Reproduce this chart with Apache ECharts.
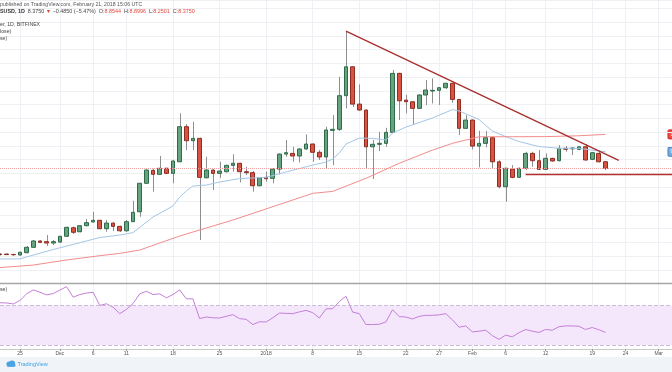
<!DOCTYPE html>
<html><head><meta charset="utf-8">
<script src="https://cdn.jsdelivr.net/npm/echarts@6/dist/echarts.min.js"></script>
<style>html,body{margin:0;padding:0;background:#fff;overflow:hidden}#c{width:672px;height:372px}</style>
</head><body><div id="c"></div><script>
// ---- data ----
const categories = [
'2017-11-22','2017-11-23','2017-11-24','2017-11-25','2017-11-26','2017-11-27','2017-11-28','2017-11-29','2017-11-30',
'2017-12-01','2017-12-02','2017-12-03','2017-12-04','2017-12-05','2017-12-06','2017-12-07','2017-12-08','2017-12-09','2017-12-10',
'2017-12-11','2017-12-12','2017-12-13','2017-12-14','2017-12-15','2017-12-16','2017-12-17','2017-12-18','2017-12-19','2017-12-20',
'2017-12-21','2017-12-22','2017-12-23','2017-12-24','2017-12-25','2017-12-26','2017-12-27','2017-12-28','2017-12-29','2017-12-30','2017-12-31',
'2018-01-01','2018-01-02','2018-01-03','2018-01-04','2018-01-05','2018-01-06','2018-01-07','2018-01-08','2018-01-09','2018-01-10',
'2018-01-11','2018-01-12','2018-01-13','2018-01-14','2018-01-15','2018-01-16','2018-01-17','2018-01-18','2018-01-19','2018-01-20',
'2018-01-21','2018-01-22','2018-01-23','2018-01-24','2018-01-25','2018-01-26','2018-01-27','2018-01-28','2018-01-29','2018-01-30','2018-01-31',
'2018-02-01','2018-02-02','2018-02-03','2018-02-04','2018-02-05','2018-02-06','2018-02-07','2018-02-08','2018-02-09','2018-02-10',
'2018-02-11','2018-02-12','2018-02-13','2018-02-14','2018-02-15','2018-02-16','2018-02-17','2018-02-18','2018-02-19','2018-02-20',
'2018-02-21','2018-02-22','2018-02-23','2018-02-24','2018-02-25','2018-02-26','2018-02-27','2018-02-28',
'2018-03-01','2018-03-02','2018-03-03'];

const opens = [2.15,2.15,2.12,2.08,2.25,2.64,3.10,3.05,2.95,3.02,
3.44,4.06,3.77,4.21,4.48,4.60,3.99,4.40,4.16,3.84,
4.50,5.22,7.29,8.23,7.94,8.38,8.01,8.85,11.40,10.38,
10.55,7.69,8.25,8.01,8.13,8.59,8.74,8.13,8.06,7.11,
7.72,7.65,8.32,9.41,9.46,9.27,9.78,10.14,9.54,9.20,
11.13,11.21,13.65,15.75,13.04,12.61,9.94,10.12,10.19,10.99,
15.27,13.33,13.21,12.73,13.70,13.99,14.04,14.23,14.55,13.38,
11.28,11.88,9.99,10.19,10.60,8.85,7.04,8.32,7.72,8.38,
9.46,8.93,8.30,9.10,8.93,9.83,9.79,9.75,9.94,9.03,
9.46,8.8544];
const closes = [2.12,2.11,2.10,2.28,2.64,3.10,3.00,2.95,3.05,3.44,
4.09,3.73,4.21,4.43,4.60,3.99,4.40,4.16,3.84,4.50,
5.18,7.29,8.25,7.94,8.38,8.01,8.91,11.40,10.38,10.55,
7.72,8.25,8.01,8.18,8.59,8.74,8.13,8.06,7.11,7.69,
7.62,8.32,9.41,9.51,9.27,9.78,10.14,9.54,9.20,11.16,
11.21,13.65,15.75,13.04,12.61,9.94,10.12,10.19,10.99,15.27,
13.28,13.21,12.73,13.70,14.06,14.04,14.23,14.55,13.38,11.28,
11.88,9.99,10.19,10.60,8.85,7.04,8.38,7.72,8.38,9.46,
8.93,8.30,9.10,8.91,9.83,9.76,9.85,9.94,8.98,9.51,
8.85,8.375];
const lows = [2.04,2.08,2.03,2.03,2.20,2.61,2.95,2.73,2.81,2.97,
3.39,3.61,3.73,4.16,4.43,3.95,3.77,3.82,3.75,3.77,
4.48,4.86,7.24,6.68,7.89,7.96,7.29,8.83,9.70,9.70,
3.17,7.65,6.80,7.67,8.08,8.13,7.36,7.89,6.68,7.07,
7.40,7.29,7.94,9.22,8.85,8.81,9.73,8.85,8.98,8.38,
8.61,11.08,12.73,12.83,12.54,8.38,7.60,9.63,9.94,10.94,
11.88,12.37,11.52,12.68,12.97,13.09,12.97,14.13,13.14,10.79,
11.23,9.75,8.45,9.90,8.38,6.92,5.95,7.65,7.67,8.25,
8.49,8.25,8.25,8.85,8.88,9.58,9.34,9.70,8.93,8.98,
8.81,8.2501];
const highs = [2.19,2.19,2.17,2.32,2.73,3.17,3.15,3.53,3.17,3.46,
4.14,4.14,4.24,4.69,5.22,4.64,4.62,4.45,4.21,4.62,
6.02,7.31,8.30,8.35,9.27,8.42,8.96,12.37,11.59,11.76,
10.60,9.22,8.30,8.85,8.64,9.39,8.78,8.49,8.18,7.74,
8.13,8.38,9.46,10.43,9.94,9.83,10.84,10.19,9.70,11.40,
12.24,15.03,18.34,15.80,14.47,12.66,10.43,11.03,11.32,15.51,
15.32,13.70,13.26,13.75,14.79,14.91,14.28,14.59,14.59,13.41,
12.24,11.93,11.10,11.08,10.65,8.96,8.42,8.61,8.42,9.58,
9.58,9.70,9.46,9.14,10.07,9.99,9.92,9.99,10.14,9.56,
9.65,8.8996];

// moving averages, read at sampled days: [dayIndex, value]
const maBlue = [[0,1.79],[3,1.80],[4,1.94],[8,2.48],[13,3.10],[15,3.35],[18,3.53],[20,3.71],[23,4.84],[26,5.64],[27,6.29],[28,6.73],[29,7.09],[31,7.16],[33,7.38],[36,7.63],[40,7.72],[43,8.11],[47,8.61],[49,8.83],[50,9.05],[51,9.49],[52,10.14],[54,10.57],[56,10.55],[58,10.43],[59,10.94],[61,11.37],[65,12.03],[68,12.64],[69,12.54],[72,11.92],[74,11.08],[76,10.68],[78,10.32],[81,9.96],[84,9.83],[87,9.83],[89,9.70],[91,9.58]];
const maRed = [[0,1.17],[5,1.35],[10,1.72],[15,2.03],[18,2.20],[21,2.44],[27,3.46],[35,4.62],[47,6.56],[50,6.70],[55,7.65],[60,8.74],[65,9.70],[68,10.19],[70,10.43],[72,10.67],[77,10.67],[82,10.68],[87,10.74],[91,10.84]];

const rsi = [72.7,72.5,71.5,75,81.7,85.7,83.3,80.7,82,85.5,
89,78.3,81,82.5,83.3,70,71.7,68.3,61.7,66,
72,81.7,84.3,81,81.7,77.7,81,85.7,76.7,76.7,
56.7,58.3,57.5,57.3,59,60.7,56.7,56,50.7,53.5,
53.3,57.5,62.3,62,61.7,63.5,65,62.7,57.3,66.5,
66.7,74,79.3,63.3,61.7,50.7,50.7,51,53.3,65.7,
58.7,58.3,56.3,59,60,60,60.5,61.7,55.5,48,
49.3,43.3,44,45,39.5,35.7,40,38.3,42.5,45.7,
44,42.7,45.7,45,48.5,49.3,49.3,49,45.7,47.7,
45.5,42.7];

const tickDates = ['2017-11-25','2017-12-01','2017-12-06','2017-12-11','2017-12-18','2017-12-25','2018-01-01','2018-01-08','2018-01-15','2018-01-22','2018-01-27','2018-02-01','2018-02-06','2018-02-12','2018-02-19','2018-02-24','2018-03-01'];
const tickTexts = ['25','Dec','6','11','18','25','2018','8','15','22','27','Feb','6','12','19','24','Mar'];

const trendFrom = ['2018-01-13', 18.34];
const trendTo = ['2018-02-23', 8.95];
const supportStart = '2018-02-09';
const supportEnd = '2018-03-03';
const supportLevel = 7.93;
const lastPrice = 8.375;
const rsiBand = [30, 70];

// ---- chart ----
const FONT = '"Liberation Sans", Arial, sans-serif';
const tickIdx = new Set(tickDates.map(d => categories.indexOf(d)));
const showTick = (i) => tickIdx.has(i);
const tickTextOf = {};
tickDates.forEach((d, k) => { tickTextOf[d] = tickTexts[k]; });

const bodies = opens.map((o, i) => [o, closes[i], Math.min(o, closes[i]), Math.max(o, closes[i])]);
const wicks = lows.map((l, i) => [i, l, highs[i]]);

const GL = -1.65, GW = 675;
const chart = echarts.init(document.getElementById('c'), null, {renderer: 'canvas'});

const gridLine = {color: '#eef0f4', width: 1};

const option = {
  animation: false,
  backgroundColor: '#ffffff',
  grid: [
    {left: GL, top: 0, width: GW, height: 283.66},
    {left: GL, top: 283.66, width: GW, height: 65.34}
  ],
  xAxis: [
    {gridIndex: 0, type: 'category', data: categories, boundaryGap: false,
     axisLine: {show: true, lineStyle: {color: '#a6a6a6', width: 1.3}},
     axisTick: {show: false}, axisLabel: {show: false},
     splitLine: {show: true, interval: showTick, lineStyle: gridLine}},
    {gridIndex: 1, type: 'category', data: categories, boundaryGap: false,
     axisLine: {show: true, lineStyle: {color: '#c9c9c9', width: 1}},
     axisTick: {show: true, interval: showTick, length: 2, lineStyle: {color: '#9a9a9a'}},
     axisLabel: {show: true, interval: showTick, formatter: v => tickTextOf[v] || '',
       fontSize: 5, color: '#555', margin: 2.5, fontFamily: FONT},
     splitLine: {show: true, interval: showTick, lineStyle: gridLine}}
  ],
  yAxis: [
    {gridIndex: 0, type: 'value', min: 0, max: 20.6, interval: 1, position: 'right',
     axisLine: {show: false}, axisTick: {show: false}, axisLabel: {show: false},
     splitLine: {show: true, lineStyle: gridLine}},
    {gridIndex: 1, type: 'value', min: 26, max: 92, position: 'right',
     axisLine: {show: false}, axisTick: {show: false}, axisLabel: {show: false},
     splitLine: {show: false}}
  ],
  series: [
    {type: 'custom', name: 'wicks', xAxisIndex: 0, yAxisIndex: 0, data: wicks, silent: true, z: 2,
     encode: {x: 0, y: [1, 2]},
     renderItem: (params, api) => {
       const p1 = api.coord([api.value(0), api.value(1)]);
       const p2 = api.coord([api.value(0), api.value(2)]);
       const x = Math.round(p1[0]) + 0.5;
       return {type: 'line', shape: {x1: x, y1: p1[1], x2: x, y2: p2[1]},
               style: {stroke: '#8f8f8f', lineWidth: 1}};
     }},
    {type: 'candlestick', name: 'EOSUSD', xAxisIndex: 0, yAxisIndex: 0, data: bodies, barWidth: 4.2, z: 3,
     itemStyle: {color: '#66a47f', color0: '#d75442', borderColor: '#2f6b4a', borderColor0: '#8f2d22', borderWidth: 1},
     markLine: {silent: true, symbol: ['none', 'none'], label: {show: false}, animation: false,
       data: [
         {yAxis: lastPrice, lineStyle: {color: '#f3a3a3', type: 'dotted', width: 1}},
         [{coord: trendFrom, lineStyle: {color: '#a8302f', width: 1.4, type: 'solid'}}, {coord: trendTo}],
         [{coord: [supportStart, supportLevel], lineStyle: {color: '#b3302c', width: 1.4, type: 'solid'}}, {coord: [supportEnd, supportLevel]}]
       ]}},
    {type: 'line', name: 'MA blue', xAxisIndex: 0, yAxisIndex: 0, data: maBlue, symbol: 'none', z: 4,
     lineStyle: {color: '#a3c6e6', width: 1}},
    {type: 'line', name: 'MA red', xAxisIndex: 0, yAxisIndex: 0, data: maRed, symbol: 'none', z: 4,
     lineStyle: {color: '#f28b8b', width: 1}},
    {type: 'line', name: 'RSI', xAxisIndex: 1, yAxisIndex: 1, data: rsi, symbol: 'none', z: 4,
     lineStyle: {color: '#c47fd6', width: 1},
     markArea: {silent: true, itemStyle: {color: '#f4e7fc'}, data: [[{yAxis: rsiBand[0]}, {yAxis: rsiBand[1]}]]},
     markLine: {silent: true, symbol: ['none', 'none'], label: {show: false},
       lineStyle: {color: '#cbbad8', type: 'dashed', width: 1},
       data: [{yAxis: rsiBand[0]}, {yAxis: rsiBand[1]}]}}
  ],
  graphic: [
    {type: 'text', left: 0, top: 2, silent: true, z: 10,
     style: {text: 'published on TradingView.com, February 21, 2018 15:06 UTC', fill: '#555', font: '5.2px ' + FONT}},
    {type: 'text', left: 0, top: 9.5, silent: true, z: 10,
     style: {text: '{b|SUSD, 1D}  {d|8.3750} {r|▼} {d|−0.4850 (−5.47%)}  {d|O:}{r|8.8544}  {d|H:}{r|8.8996}  {d|L:}{r|8.2501}  {d|C:}{r|8.3750}',
       font: '5.4px ' + FONT,
       rich: {b: {fontWeight: 'bold', fill: '#333', fontSize: 5.4, fontFamily: FONT},
              d: {fill: '#444', fontSize: 5.4, fontFamily: FONT},
              r: {fill: '#e2463c', fontSize: 5.4, fontFamily: FONT}}}},
    {type: 'text', left: 0, top: 22, silent: true, z: 10, style: {text: 'er, 1D, BITFINEX', fill: '#444', font: '5.2px ' + FONT}},
    {type: 'text', left: 0, top: 29.5, silent: true, z: 10, style: {text: 'lose)', fill: '#444', font: '5.2px ' + FONT}},
    {type: 'text', left: 0, top: 36, silent: true, z: 10, style: {text: 'se)', fill: '#444', font: '5.2px ' + FONT}},
    {type: 'text', left: 0, top: 287, silent: true, z: 10, style: {text: 'se)', fill: '#444', font: '5.2px ' + FONT}},
    {type: 'rect', shape: {x: 0, y: 357, width: 672, height: 15}, style: {fill: '#f0f3f7'}, silent: true, z: 9},
    {type: 'circle', shape: {cx: 9, cy: 364, r: 2.6}, style: {fill: '#4ba3e3'}, silent: true, z: 10},
    {type: 'circle', shape: {cx: 12, cy: 363.5, r: 3.1}, style: {fill: '#4ba3e3'}, silent: true, z: 10},
    {type: 'rect', shape: {x: 7, y: 364, width: 8.5, height: 2.8, r: 1.2}, style: {fill: '#4ba3e3'}, silent: true, z: 10},
    {type: 'text', left: 17.5, top: 361.5, silent: true, z: 10, style: {text: 'TradingView', fill: '#3a9ee6', font: '5.5px ' + FONT}}
  ]
};
chart.setOption(option);

// price-scale labels on the right (cut off by the frame), placed through the axes
const yRed = chart.convertToPixel({gridIndex: 0}, [categories[91], maRed[maRed.length - 1][1]])[1];
const yBlue = chart.convertToPixel({gridIndex: 0}, [categories[91], maBlue[maBlue.length - 1][1]])[1];
const yRsi = chart.convertToPixel({gridIndex: 1}, [categories[91], rsi[rsi.length - 1]])[1];
function box(id, y, fill, stroke, txt) {
  return {type: 'group', id: id, x: 668, y: y - 4.5, silent: true, z: 12, children: [
    {type: 'rect', shape: {x: 0, y: 0, width: 12, height: 9, r: 1}, style: {fill: fill, stroke: stroke, lineWidth: 1}},
    {type: 'text', x: 2.5, y: 2, style: {text: txt, fill: '#fff', font: '5px ' + FONT}}
  ]};
}
chart.setOption({graphic: option.graphic.concat([
  box('bRed', yRed, '#ef4b43', '#c62828', maRed[maRed.length - 1][1].toFixed(2)),
  box('bBlue', yBlue, '#78aede', '#3f7fc0', maBlue[maBlue.length - 1][1].toFixed(2)),
  box('bRsi', yRsi, '#b45cc8', '#6a1b7a', rsi[rsi.length - 1].toFixed(1))
])});
</script></body></html>
